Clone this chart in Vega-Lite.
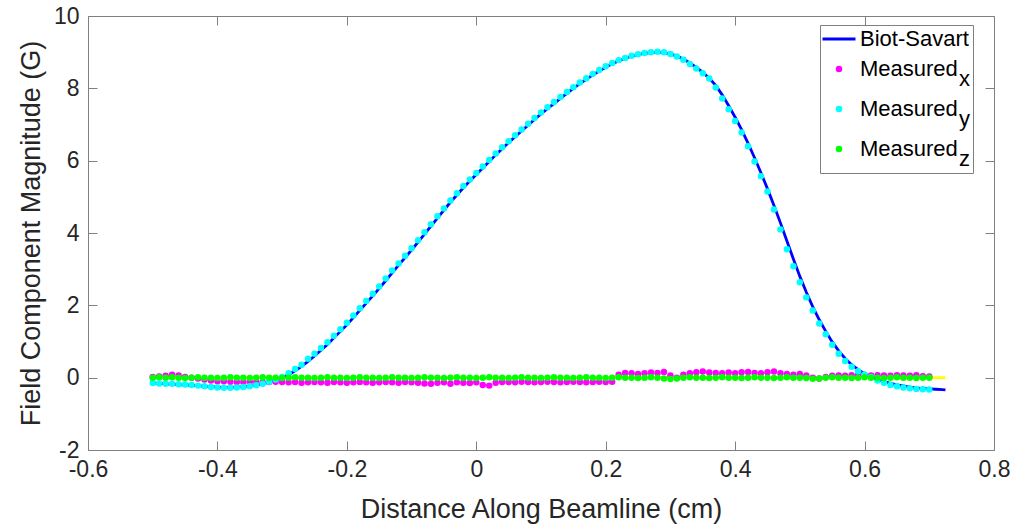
{
"$schema":"https://vega.github.io/schema/vega-lite/v6.json",
"width":906,"height":434,
"autosize":"none",
"padding":{"left":88,"top":16,"right":16,"bottom":75},
"background":"white",
"config":{
 "font":"Liberation Sans",
 "view":{"stroke":null},
 "axis":{"grid":false,"domainColor":"#808080","tickColor":"#808080","domainWidth":1,"tickWidth":1,"tickSize":-9,
  "labelFont":"Liberation Sans","labelFontSize":23,"labelColor":"#262626","labelFlush":false,"labelOverlap":false,"labelBound":false,
  "titleFont":"Liberation Sans","titleFontSize":27,"titleFontWeight":"normal","titleColor":"#262626"}
},
"datasets":{
 "main":[
{"x":-0.5,"mx":0.02,"my":-0.15,"mz":0,"b":-0.15},
{"x":-0.49,"mx":0.03,"my":-0.16,"mz":0.01,"b":-0.16},
{"x":-0.48,"mx":0.05,"my":-0.17,"mz":0,"b":-0.17},
{"x":-0.47,"mx":0.08,"my":-0.17,"mz":0.01,"b":-0.18},
{"x":-0.46,"mx":0.06,"my":-0.18,"mz":0,"b":-0.19},
{"x":-0.45,"mx":0.02,"my":-0.19,"mz":-0.01,"b":-0.2},
{"x":-0.44,"mx":0,"my":-0.2,"mz":0,"b":-0.21},
{"x":-0.43,"mx":-0.02,"my":-0.22,"mz":0.01,"b":-0.22},
{"x":-0.42,"mx":-0.05,"my":-0.24,"mz":0,"b":-0.24},
{"x":-0.41,"mx":-0.08,"my":-0.26,"mz":0,"b":-0.25},
{"x":-0.4,"mx":-0.1,"my":-0.27,"mz":-0.01,"b":-0.26},
{"x":-0.39,"mx":-0.1,"my":-0.28,"mz":0,"b":-0.27},
{"x":-0.38,"mx":-0.11,"my":-0.28,"mz":0.01,"b":-0.27},
{"x":-0.37,"mx":-0.12,"my":-0.27,"mz":0,"b":-0.26},
{"x":-0.36,"mx":-0.12,"my":-0.26,"mz":0,"b":-0.25},
{"x":-0.35,"mx":-0.11,"my":-0.24,"mz":-0.01,"b":-0.23},
{"x":-0.34,"mx":-0.12,"my":-0.21,"mz":0,"b":-0.21},
{"x":-0.33,"mx":-0.13,"my":-0.17,"mz":0.01,"b":-0.17},
{"x":-0.32,"mx":-0.12,"my":-0.11,"mz":0,"b":-0.12},
{"x":-0.31,"mx":-0.11,"my":-0.05,"mz":0,"b":-0.06},
{"x":-0.3,"mx":-0.12,"my":0.02,"mz":-0.01,"b":0},
{"x":-0.29,"mx":-0.13,"my":0.12,"mz":0,"b":0.08},
{"x":-0.28,"mx":-0.12,"my":0.24,"mz":0.01,"b":0.19},
{"x":-0.27,"mx":-0.14,"my":0.36,"mz":0,"b":0.31},
{"x":-0.26,"mx":-0.13,"my":0.52,"mz":0,"b":0.45},
{"x":-0.25,"mx":-0.12,"my":0.66,"mz":-0.01,"b":0.6},
{"x":-0.24,"mx":-0.13,"my":0.82,"mz":0,"b":0.76},
{"x":-0.23,"mx":-0.14,"my":0.98,"mz":0.01,"b":0.92},
{"x":-0.22,"mx":-0.12,"my":1.16,"mz":0,"b":1.1},
{"x":-0.21,"mx":-0.13,"my":1.34,"mz":0,"b":1.28},
{"x":-0.2,"mx":-0.14,"my":1.52,"mz":-0.01,"b":1.46},
{"x":-0.19,"mx":-0.13,"my":1.72,"mz":0,"b":1.66},
{"x":-0.18,"mx":-0.12,"my":1.92,"mz":0.01,"b":1.86},
{"x":-0.17,"mx":-0.13,"my":2.12,"mz":0,"b":2.06},
{"x":-0.16,"mx":-0.14,"my":2.32,"mz":0,"b":2.26},
{"x":-0.15,"mx":-0.13,"my":2.52,"mz":-0.01,"b":2.47},
{"x":-0.14,"mx":-0.12,"my":2.74,"mz":0,"b":2.68},
{"x":-0.13,"mx":-0.13,"my":2.96,"mz":0.01,"b":2.9},
{"x":-0.12,"mx":-0.14,"my":3.16,"mz":0,"b":3.11},
{"x":-0.11,"mx":-0.12,"my":3.37,"mz":0,"b":3.32},
{"x":-0.1,"mx":-0.13,"my":3.58,"mz":-0.01,"b":3.53},
{"x":-0.09,"mx":-0.14,"my":3.8,"mz":0,"b":3.75},
{"x":-0.08,"mx":-0.16,"my":4.02,"mz":0.01,"b":3.97},
{"x":-0.07,"mx":-0.17,"my":4.24,"mz":0,"b":4.19},
{"x":-0.06,"mx":-0.14,"my":4.46,"mz":0,"b":4.41},
{"x":-0.05,"mx":-0.13,"my":4.68,"mz":-0.01,"b":4.63},
{"x":-0.04,"mx":-0.17,"my":4.9,"mz":0,"b":4.85},
{"x":-0.03,"mx":-0.13,"my":5.1,"mz":0.01,"b":5.05},
{"x":-0.02,"mx":-0.14,"my":5.3,"mz":0,"b":5.25},
{"x":-0.01,"mx":-0.15,"my":5.48,"mz":0,"b":5.44},
{"x":0,"mx":-0.13,"my":5.66,"mz":-0.01,"b":5.62},
{"x":0.01,"mx":-0.2,"my":5.84,"mz":0,"b":5.8},
{"x":0.02,"mx":-0.22,"my":6.02,"mz":0.01,"b":5.98},
{"x":0.03,"mx":-0.14,"my":6.2,"mz":0,"b":6.16},
{"x":0.04,"mx":-0.12,"my":6.37,"mz":0,"b":6.33},
{"x":0.05,"mx":-0.12,"my":6.54,"mz":-0.01,"b":6.5},
{"x":0.06,"mx":-0.13,"my":6.7,"mz":0,"b":6.66},
{"x":0.07,"mx":-0.11,"my":6.86,"mz":0.01,"b":6.82},
{"x":0.08,"mx":-0.12,"my":7.02,"mz":0,"b":6.98},
{"x":0.09,"mx":-0.13,"my":7.18,"mz":0,"b":7.14},
{"x":0.1,"mx":-0.12,"my":7.33,"mz":-0.01,"b":7.29},
{"x":0.11,"mx":-0.11,"my":7.48,"mz":0,"b":7.44},
{"x":0.12,"mx":-0.12,"my":7.62,"mz":0.01,"b":7.58},
{"x":0.13,"mx":-0.13,"my":7.76,"mz":0,"b":7.72},
{"x":0.14,"mx":-0.12,"my":7.9,"mz":0,"b":7.86},
{"x":0.15,"mx":-0.11,"my":8.03,"mz":-0.01,"b":8},
{"x":0.16,"mx":-0.12,"my":8.16,"mz":0,"b":8.13},
{"x":0.17,"mx":-0.13,"my":8.28,"mz":0.01,"b":8.25},
{"x":0.18,"mx":-0.12,"my":8.4,"mz":0,"b":8.37},
{"x":0.19,"mx":-0.11,"my":8.51,"mz":0,"b":8.48},
{"x":0.2,"mx":-0.12,"my":8.61,"mz":-0.01,"b":8.58},
{"x":0.21,"mx":-0.11,"my":8.7,"mz":0,"b":8.68},
{"x":0.22,"mx":0.08,"my":8.78,"mz":0.01,"b":8.76},
{"x":0.23,"mx":0.13,"my":8.84,"mz":0,"b":8.83},
{"x":0.24,"mx":0.12,"my":8.9,"mz":0,"b":8.89},
{"x":0.25,"mx":0.1,"my":8.94,"mz":-0.01,"b":8.93},
{"x":0.26,"mx":0.12,"my":8.98,"mz":0,"b":8.97},
{"x":0.27,"mx":0.14,"my":9,"mz":0.01,"b":8.99},
{"x":0.28,"mx":0.13,"my":9.01,"mz":0,"b":9},
{"x":0.29,"mx":0.16,"my":9,"mz":-0.02,"b":8.99},
{"x":0.3,"mx":0.06,"my":8.95,"mz":-0.04,"b":8.95},
{"x":0.31,"mx":0,"my":8.88,"mz":-0.02,"b":8.89},
{"x":0.32,"mx":0.08,"my":8.79,"mz":0,"b":8.81},
{"x":0.33,"mx":0.12,"my":8.67,"mz":0.01,"b":8.7},
{"x":0.34,"mx":0.15,"my":8.55,"mz":0,"b":8.58},
{"x":0.35,"mx":0.17,"my":8.42,"mz":0,"b":8.44},
{"x":0.36,"mx":0.14,"my":8.27,"mz":-0.01,"b":8.28},
{"x":0.37,"mx":0.13,"my":8.02,"mz":0,"b":8.08},
{"x":0.38,"mx":0.12,"my":7.72,"mz":0.01,"b":7.82},
{"x":0.39,"mx":0.14,"my":7.42,"mz":0,"b":7.52},
{"x":0.4,"mx":0.12,"my":7.1,"mz":0,"b":7.2},
{"x":0.41,"mx":0.15,"my":6.78,"mz":-0.01,"b":6.86},
{"x":0.42,"mx":0.16,"my":6.4,"mz":0,"b":6.48},
{"x":0.43,"mx":0.13,"my":5.98,"mz":0.01,"b":6.08},
{"x":0.44,"mx":0.12,"my":5.57,"mz":0,"b":5.66},
{"x":0.45,"mx":0.15,"my":5.15,"mz":0,"b":5.22},
{"x":0.46,"mx":0.17,"my":4.65,"mz":-0.01,"b":4.76},
{"x":0.47,"mx":0.12,"my":4.1,"mz":0,"b":4.28},
{"x":0.48,"mx":0.1,"my":3.55,"mz":0.01,"b":3.78},
{"x":0.49,"mx":0.08,"my":3.08,"mz":0,"b":3.28},
{"x":0.5,"mx":0.1,"my":2.64,"mz":0,"b":2.8},
{"x":0.51,"mx":0.06,"my":2.22,"mz":-0.01,"b":2.36},
{"x":0.52,"mx":0,"my":1.86,"mz":-0.03,"b":1.96},
{"x":0.53,"mx":-0.02,"my":1.5,"mz":-0.02,"b":1.6},
{"x":0.54,"mx":0.02,"my":1.2,"mz":0,"b":1.28},
{"x":0.55,"mx":0.05,"my":0.91,"mz":0.01,"b":0.99},
{"x":0.56,"mx":0.06,"my":0.66,"mz":0,"b":0.74},
{"x":0.57,"mx":0.05,"my":0.46,"mz":0,"b":0.53},
{"x":0.58,"mx":0.07,"my":0.3,"mz":-0.01,"b":0.36},
{"x":0.59,"mx":0.08,"my":0.18,"mz":0,"b":0.22},
{"x":0.6,"mx":0.05,"my":0.09,"mz":0.01,"b":0.11},
{"x":0.61,"mx":0.06,"my":0.02,"mz":0,"b":0.02},
{"x":0.62,"mx":0.07,"my":-0.08,"mz":0,"b":-0.05},
{"x":0.63,"mx":0.06,"my":-0.14,"mz":-0.01,"b":-0.11},
{"x":0.64,"mx":0.05,"my":-0.2,"mz":0,"b":-0.16},
{"x":0.65,"mx":0.07,"my":-0.24,"mz":0.01,"b":-0.2},
{"x":0.66,"mx":0.06,"my":-0.27,"mz":0,"b":-0.23},
{"x":0.67,"mx":0.05,"my":-0.29,"mz":0,"b":-0.26},
{"x":0.68,"mx":0.07,"my":-0.31,"mz":-0.01,"b":-0.28},
{"x":0.69,"mx":0.04,"my":-0.32,"mz":0,"b":-0.3},
{"x":0.7,"mx":0.03,"my":-0.33,"mz":0,"b":-0.31},
{"x":0.71,"b":-0.32},
{"x":0.72,"b":-0.33},
{"x":0.725,"b":-0.335}
 ],
 "bz":[
{"x":-0.5,"bz":0},{"x":-0.25,"bz":0},{"x":0,"bz":0},{"x":0.25,"bz":0},{"x":0.5,"bz":0},{"x":0.725,"bz":0}
 ]
},
"layer":[
 {
  "data":{"name":"bz"},
  "mark":{"type":"line","color":"#ffff00","strokeWidth":2.8},
  "encoding":{
   "x":{"field":"x","type":"quantitative","scale":{"domain":[-0.6,0.8],"nice":false,"zero":false},
        "axis":{"orient":"top","labels":false,"title":null,"values":[-0.6,-0.4,-0.2,0,0.2,0.4,0.6,0.8]}},
   "y":{"field":"bz","type":"quantitative","scale":{"domain":[-2,10],"nice":false,"zero":false},
        "axis":{"orient":"right","labels":false,"title":null,"values":[-2,0,2,4,6,8,10]}}
  }
 },
 {
  "data":{"name":"main"},
  "mark":{"type":"line","strokeWidth":2.8},
  "encoding":{
   "x":{"field":"x","type":"quantitative","scale":{"domain":[-0.6,0.8],"nice":false,"zero":false},
        "axis":{"orient":"bottom","title":"Distance Along Beamline (cm)","values":[-0.6,-0.4,-0.2,0,0.2,0.4,0.6,0.8],"labelExpr":"'' + datum.value","labelPadding":17,"titlePadding":15}},
   "y":{"field":"b","type":"quantitative","scale":{"domain":[-2,10],"nice":false,"zero":false},
        "axis":{"orient":"left","title":"Field Component Magnitude (G)","values":[-2,0,2,4,6,8,10],"labelExpr":"'' + datum.value","labelPadding":18,"titlePadding":8}},
   "color":{"datum":"Biot-Savart","type":"nominal",
     "scale":{"domain":["Biot-Savart","mx","my","mz"],"range":["#0000ff","#ff00ff","#00ffff","#00ff00"]},
     "legend":{"title":null,"orient":"none","legendX":732,"legendY":9,"strokeColor":"#7f7f7f","fillColor":"#ffffff","padding":3,
       "labelFont":"Liberation Sans","labelFontSize":22,"labelColor":"#000000","labelOffset":10,"symbolOffset":5,"symbolSize":1089,"rowPadding":8,"labelLimit":300,
       "labelExpr":"datum.value == 'Biot-Savart' ? 'Biot-Savart' : ['Measured', '\u200b\u2003\u2003\u2003\u2003\u2002' + (datum.value == 'mx' ? 'x' : datum.value == 'my' ? 'y' : 'z')]",
       "encode":{
         "symbols":{"update":{
           "shape":{"signal":"datum.value == 'Biot-Savart' ? 'stroke' : 'circle'"},
           "size":{"signal":"datum.value == 'Biot-Savart' ? 1089 : 42"},
           "strokeWidth":{"signal":"datum.value == 'Biot-Savart' ? 3 : 0"},
           "fill":{"signal":"scale('color', datum.value)"},
           "stroke":{"signal":"scale('color', datum.value)"},
           "opacity":{"value":1},"fillOpacity":{"value":1},"strokeOpacity":{"value":1}
         }},
         "labels":{"update":{"lineHeight":{"value":10}}}
       }}}
  }
 },
 {
  "data":{"name":"main"},
  "transform":[{"fold":["mx","my","mz"],"as":["key","val"]},{"filter":"isValid(datum.val)"}],
  "mark":{"type":"circle","size":42,"opacity":1},
  "encoding":{
   "x":{"field":"x","type":"quantitative","scale":{"domain":[-0.6,0.8],"nice":false,"zero":false},"axis":null},
   "y":{"field":"val","type":"quantitative","scale":{"domain":[-2,10],"nice":false,"zero":false},"axis":null},
   "order":{"field":"key","type":"nominal"},
   "color":{"field":"key","type":"nominal",
     "scale":{"domain":["Biot-Savart","mx","my","mz"],"range":["#0000ff","#ff00ff","#00ffff","#00ff00"]},
     "legend":{"title":null,"orient":"none","legendX":732,"legendY":9,"strokeColor":"#7f7f7f","fillColor":"#ffffff","padding":3,
       "labelFont":"Liberation Sans","labelFontSize":22,"labelColor":"#000000","labelOffset":10,"symbolOffset":5,"symbolSize":1089,"rowPadding":8,"labelLimit":300,
       "labelExpr":"datum.value == 'Biot-Savart' ? 'Biot-Savart' : ['Measured', '\u200b\u2003\u2003\u2003\u2003\u2002' + (datum.value == 'mx' ? 'x' : datum.value == 'my' ? 'y' : 'z')]",
       "encode":{
         "symbols":{"update":{
           "shape":{"signal":"datum.value == 'Biot-Savart' ? 'stroke' : 'circle'"},
           "size":{"signal":"datum.value == 'Biot-Savart' ? 1089 : 42"},
           "strokeWidth":{"signal":"datum.value == 'Biot-Savart' ? 3 : 0"},
           "fill":{"signal":"scale('color', datum.value)"},
           "stroke":{"signal":"scale('color', datum.value)"},
           "opacity":{"value":1},"fillOpacity":{"value":1},"strokeOpacity":{"value":1}
         }},
         "labels":{"update":{"lineHeight":{"value":10}}}
       }}}
  }
 }
],
"resolve":{"axis":{"x":"independent","y":"independent"}}
}
